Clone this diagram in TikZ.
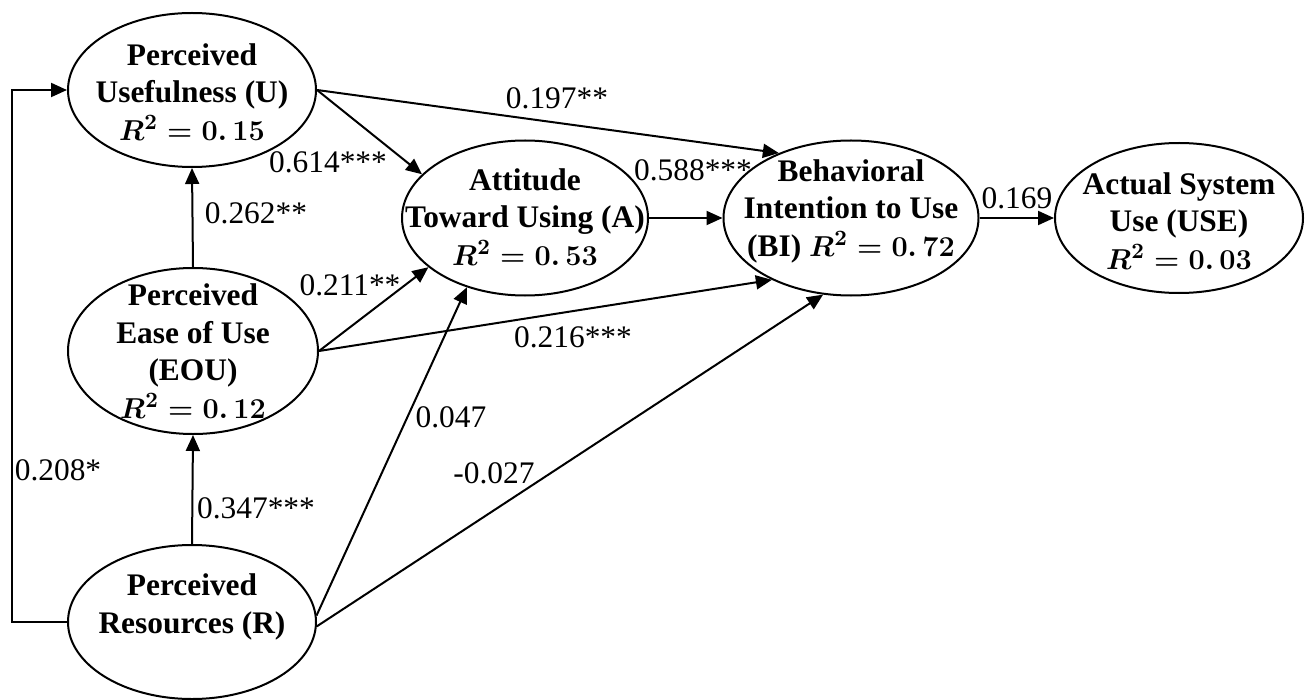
\documentclass[tikz,border=0pt]{standalone}
\usepackage{fontspec}
\setmainfont{Liberation Serif}
\usetikzlibrary{shapes.geometric,arrows.meta}
\begin{document}
\begin{tikzpicture}[x=0.5pt,y=-0.5pt,
  construct/.style={ellipse, draw, line width=1pt, inner sep=0pt},
  ctext/.style={font=\fontsize{15.7}{18.75}\selectfont\bfseries, align=center, inner sep=0pt},
  coef/.style={font=\fontsize{15.7}{18}\selectfont, inner sep=0pt},
  pathway/.style={draw, line width=1pt, -{Triangle[length=8pt,width=7pt]}}
]
\useasboundingbox (0,0) rectangle (1311,700);

% constructs
\node[construct, minimum width=124pt, minimum height=77pt] (U) at (192,90) {};
\node[ctext] (Ut) at (192,92) {Perceived\\Usefulness (U)\\{\boldmath$R^2=0.\,15$}};

\node[construct, minimum width=125pt, minimum height=83pt] (EOU) at (193,351) {};
\node[ctext] (EOUt) at (193,351) {Perceived\\Ease of Use\\(EOU)\\{\boldmath$R^2=0.\,12$}};

\node[construct, minimum width=124pt, minimum height=77pt] (R) at (192,622) {};
\node[ctext] (Rt) at (192,607) {Perceived\\Resources (R)};

\node[construct, minimum width=123pt, minimum height=77.5pt] (A) at (525,218) {};
\node[ctext] (At) at (525,217) {Attitude\\Toward Using (A)\\{\boldmath$R^2=0.\,53$}};

\node[construct, minimum width=127.5pt, minimum height=77.5pt] (BI) at (851,218) {};
\node[ctext] (BIt) at (851,211) {Behavioral\\Intention to Use\\(BI) {\boldmath$R^2=0.\,72$}};

\node[construct, minimum width=124pt, minimum height=75pt] (USE) at (1179,218) {};
\node[ctext] (USEt) at (1179,221) {Actual System\\Use (USE)\\{\boldmath$R^2=0.\,03$}};

% paths
\draw[pathway] (U.east) -- (A.157);
\draw[pathway] (U.east) -- (BI.138);
\draw[pathway] (A.east) -- (BI.west);
\draw[pathway] (BI.east) -- (USE.west);
\draw[pathway] (EOU.north) -- (U.south);
\draw[pathway] (EOU.east) -- (A.207);
\draw[pathway] (EOU.east) -- (BI.218);
\draw[pathway] (R.north) -- (EOU.south);
\draw[pathway] (R.3) -- (A.230);
\draw[pathway] (R.-2) -- (BI.250);
\coordinate (rail) at (12,622);
\draw[pathway] (R.west) -- (rail) |- (U.west);

% coefficients
\node[coef] (c1) at (328,162) {0.614***};
\node[coef] (c2) at (557,98) {0.197**};
\node[coef] (c3) at (693,170) {0.588***};
\node[coef] (c4) at (1017,198) {0.169};
\node[coef] (c5) at (350,285) {0.211**};
\node[coef] (c6) at (573,337) {0.216***};
\node[coef] (c7) at (451,417) {0.047};
\node[coef] (c8) at (494,473) {-0.027};
\node[coef] (c9) at (256,508) {0.347***};
\node[coef] (c10) at (256,213) {0.262**};
\node[coef] (c11) at (58,470) {0.208*};
\end{tikzpicture}
\end{document}
